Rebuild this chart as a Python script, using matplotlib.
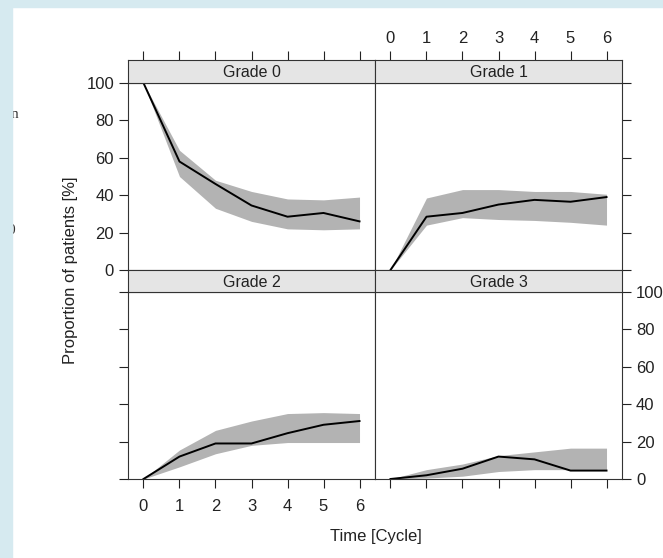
import matplotlib
matplotlib.use("Agg")
import matplotlib.pyplot as plt
from matplotlib.patches import Rectangle

plt.rcParams['font.family'] = ['Liberation Sans', 'DejaVu Sans']

# data
cycles = [0, 1, 2, 3, 4, 5, 6]
grades = ["Grade 0", "Grade 1", "Grade 2", "Grade 3"]

grade0_mean = [100, 58, 46, 34.5, 28.5, 30.5, 26]
grade0_lo = [100, 50, 33, 26, 22, 21.5, 22]
grade0_hi = [100, 64, 48, 42, 38, 37.5, 39]

grade1_mean = [0, 28.5, 30.5, 35, 37.5, 36.5, 39]
grade1_lo = [0, 24, 28, 27, 26.5, 25.5, 24]
grade1_hi = [0, 38.5, 43, 43, 42, 42, 40.5]

grade2_mean = [0, 12, 19, 19, 24.5, 29, 31]
grade2_lo = [0, 6.5, 13.5, 18, 19.5, 19.5, 19.5]
grade2_hi = [0, 15.5, 26, 31, 35, 35.5, 35]

grade3_mean = [0, 2, 5.5, 12, 10.5, 4.5, 4.5]
grade3_lo = [0, 0.5, 1.5, 4, 5, 5, 5]
grade3_hi = [0, 5, 8, 12.5, 14.5, 16.5, 16.5]

yticks = [0, 20, 40, 60, 80, 100]

W, H = 663, 558
fig = plt.figure(figsize=(W / 100, H / 100), dpi=100)


def box(x0, y0, x1, y1):
    # pixel box (top-left origin) -> figure fraction rect
    return [x0 / W, 1 - y1 / H, (x1 - x0) / W, (y1 - y0) / H]


# panel layout: (col, row) -> pixel boxes
cols = [(128, 375), (375, 622)]
rows = [(60, 83, 270), (270, 292, 479)]

series = [
    (grade0_mean, grade0_lo, grade0_hi),
    (grade1_mean, grade1_lo, grade1_hi),
    (grade2_mean, grade2_lo, grade2_hi),
    (grade3_mean, grade3_lo, grade3_hi),
]

tick_kw = dict(direction='out', length=6.5, width=0.8, labelsize=12, colors='#222222')

for i, name in enumerate(grades):
    c, r = i % 2, i // 2
    x0, x1 = cols[c]
    s0, s1, y1 = rows[r]
    mean, lo, hi = series[i]

    ax = fig.add_axes(box(x0, s1, x1, y1))
    ax.fill_between(cycles, lo, hi, color='#b3b3b3', lw=0)
    ax.plot(cycles, mean, color='black', lw=1.4)
    ax.set_xlim(-0.43, 6.43)
    ax.set_ylim(0, 100)
    for sp in ax.spines.values():
        sp.set_linewidth(0.8)
        sp.set_color('#333333')
    ax.tick_params(**tick_kw)
    ax.set_xticks(cycles)
    ax.set_yticks(yticks)
    ax.tick_params(axis='x', bottom=(r == 1), labelbottom=(r == 1 and c == 0),
                   top=False, pad=8)
    ax.tick_params(axis='y', left=(c == 0), labelleft=(c == 0 and r == 0),
                   right=(c == 1), labelright=(c == 1 and r == 1))

    # strip header
    st = fig.add_axes(box(x0, s0, x1, s1))
    st.set_facecolor('#e5e5e5')
    st.set_xlim(-0.43, 6.43)
    st.set_yticks([])
    for sp in st.spines.values():
        sp.set_linewidth(0.8)
        sp.set_color('#333333')
    st.text(0.5, 0.45, name, transform=st.transAxes, ha='center', va='center',
            fontsize=11.5, color='#222222')
    st.tick_params(**tick_kw)
    if r == 0:
        st.set_xticks(cycles)
        st.tick_params(axis='x', bottom=False, labelbottom=False, top=True,
                       labeltop=(c == 1))
    else:
        st.set_xticks([])

fig.text(70 / W, 1 - 270 / H, "Proportion of patients [%]", rotation=90,
         ha='center', va='center', fontsize=12, color='#222222')
fig.text(376 / W, 1 - 536 / H, "Time [Cycle]", ha='center', va='center',
         fontsize=12, color='#222222')

# bits of the surrounding page
fig.text(11 / W, 1 - 114 / H, "n", family='Liberation Serif', fontsize=11,
         ha='left', va='center', color='#333333')
fig.text(7 / W, 1 - 230 / H, "0", family='Liberation Serif', fontsize=11,
         ha='left', va='center', color='#333333')
fig.patches.append(Rectangle((0, 0), 12 / W, 1, transform=fig.transFigure,
                             color='#d6eaf0', zorder=10))
fig.patches.append(Rectangle((0, 1 - 7 / H), 1, 7 / H, transform=fig.transFigure,
                             color='#d6eaf0', zorder=10))

fig.savefig("out.png", dpi=100)
